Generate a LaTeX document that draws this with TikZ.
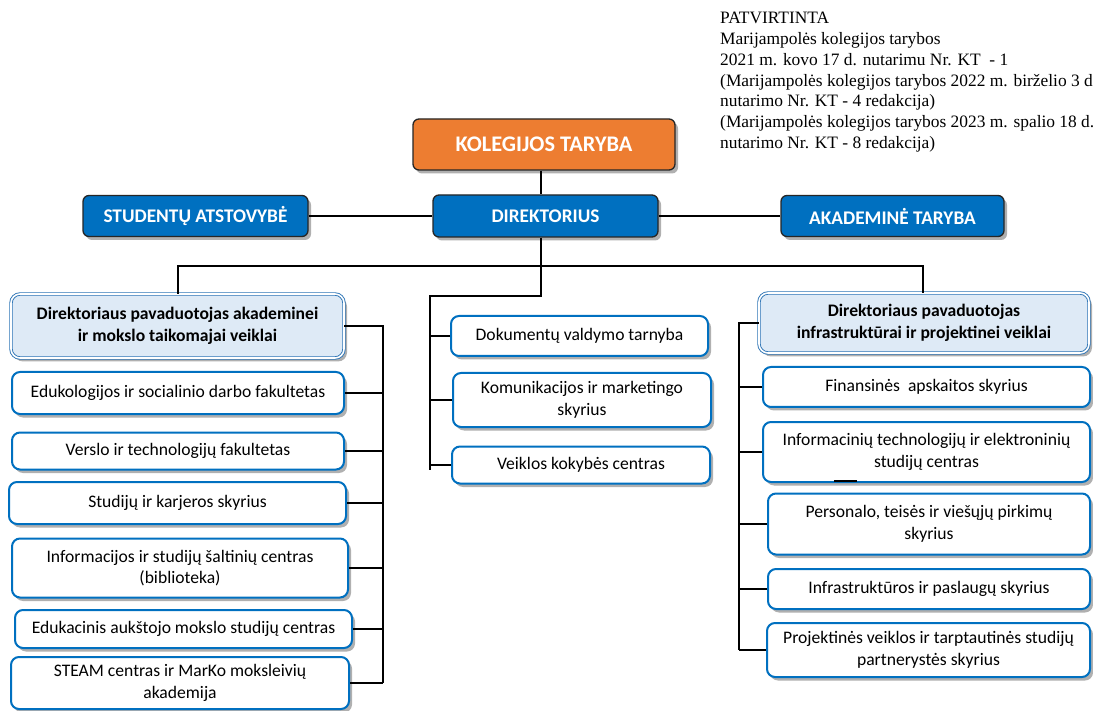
\documentclass[tikz,border=0pt]{standalone}
\usepackage{fontspec}
\setmainfont{Liberation Serif}
\newfontfamily\calfont{Carlito}
\usetikzlibrary{shadows}
\definecolor{orng}{HTML}{ED7D31}
\definecolor{dblue}{HTML}{0070C0}
\definecolor{lblue}{HTML}{DEEAF6}
\definecolor{dbord}{HTML}{2E75B6}
\definecolor{shad}{HTML}{B0B0B0}
\begin{document}
\begin{tikzpicture}[x=1pt,y=-1pt,
 conn/.style={draw=black, line width=1.3pt},
 shd/.style={drop shadow={shadow xshift=3pt, shadow yshift=-3.5pt, fill=shad, opacity=1}},
 hdr/.style={shd, draw=black!85, line width=1.3pt, fill=dblue, rounded corners=6pt, text=white, inner sep=0pt,
   font=\calfont\bfseries\fontsize{19.3}{23}\selectfont},
 topbox/.style={hdr, fill=orng, font=\calfont\bfseries\fontsize{22.3}{26}\selectfont},
 depbox/.style={shd, draw=dbord, double=white, double distance=1.6pt, line width=0.9pt, fill=lblue, rounded corners=9pt,
   inner sep=0pt, align=center, font=\calfont\bfseries\fontsize{17.6}{22}\selectfont},
 wbox/.style={shd, draw=dblue, line width=2pt, fill=white, rounded corners=8pt, inner sep=0pt, align=center,
   font=\calfont\fontsize{17.6}{21.5}\selectfont},
 note/.style={anchor=north west, align=left, inner sep=0pt, font=\fontsize{17.4}{20.8}\selectfont}
]
\fill[white] (0,0) rectangle (1093,711);
\useasboundingbox (0,0) rectangle (1093,711);

% approval note
\node[note] (appr) at (720,12) {PATVIRTINTA\\
Marijampolės kolegijos tarybos\\
2021 m. kovo 17 d. nutarimu Nr. KT\ \ - 1\\
(Marijampolės kolegijos tarybos 2022 m. birželio 3 d\\
nutarimo Nr. KT - 4 redakcija)\\
(Marijampolės kolegijos tarybos 2023 m. spalio 18 d.\\
nutarimo Nr. KT - 8 redakcija)};

% top level
\node[topbox, minimum width=262pt, minimum height=51pt] (kol) at (544,144.5) {KOLEGIJOS TARYBA};
\node[hdr, minimum width=225pt, minimum height=42pt] (dir) at (545.5,216) {DIREKTORIUS};
\node[hdr, minimum width=225pt, minimum height=41pt] (stud) at (195.5,216) {STUDENTŲ ATSTOVYBĖ};
\node[hdr, minimum width=223pt, minimum height=41pt] (akad) at (892.5,216) {AKADEMINĖ TARYBA};

% deputies
\node[depbox, minimum width=333pt, minimum height=64pt] (dep1) at (177.5,326) {Direktoriaus pavaduotojas akademinei\\ ir mokslo taikomajai veiklai};
\node[depbox, minimum width=330pt, minimum height=60pt] (dep2) at (924,323) {Direktoriaus pavaduotojas\\ infrastruktūrai ir projektinei veiklai};

% left column
\node[wbox, minimum width=332pt, minimum height=42pt] (l1) at (178,393) {Edukologijos ir socialinio darbo fakultetas};
\node[wbox, minimum width=332pt, minimum height=37pt] (l2) at (178,451) {Verslo ir technologijų fakultetas};
\node[wbox, minimum width=337pt, minimum height=42pt] (l3) at (177.5,503) {Studijų ir karjeros skyrius};
\node[wbox, minimum width=336pt, minimum height=59pt] (l4) at (180,568) {Informacijos ir studijų šaltinių centras\\ (biblioteka)};
\node[wbox, minimum width=337pt, minimum height=38pt] (l5) at (183.5,629) {Edukacinis aukštojo mokslo studijų centras};
\node[wbox, minimum width=338pt, minimum height=52pt] (l6) at (180,683) {STEAM centras ir MarKo moksleivių\\ akademija};

% centre column
\node[wbox, minimum width=257pt, minimum height=40pt] (c1) at (579.5,336) {Dokumentų valdymo tarnyba};
\node[wbox, minimum width=258pt, minimum height=54pt] (c2) at (582,400) {Komunikacijos ir marketingo\\ skyrius};
\node[wbox, minimum width=258pt, minimum height=37pt] (c3) at (581,465) {Veiklos kokybės centras};

% right column
\node[wbox, minimum width=327pt, minimum height=40pt] (r1) at (926.5,387) {Finansinės\ \ apskaitos skyrius};
\node[wbox, minimum width=327pt, minimum height=60pt] (r2) at (926.5,452) {Informacinių technologijų ir elektroninių\\ studijų centras};
\node[wbox, minimum width=322pt, minimum height=61pt] (r3) at (929,524) {Personalo, teisės ir viešųjų pirkimų\\ skyrius};
\node[wbox, minimum width=322pt, minimum height=40pt] (r4) at (929,589) {Infrastruktūros ir paslaugų skyrius};
\node[wbox, minimum width=323pt, minimum height=54pt] (r5) at (928.5,650) {Projektinės veiklos ir tarptautinės studijų\\ partnerystės skyrius};

% bus coordinates
\coordinate (vx) at (541,266);
\coordinate (hl) at (178,266);
\coordinate (hr) at (923,266);
\coordinate (m1) at (541,296);
\coordinate (m2) at (430,296);
\coordinate (m3) at (430,470);
\coordinate (lb1) at (383,326);
\coordinate (lb2) at (383,683);
\coordinate (rb1) at (739,323);
\coordinate (rb2) at (739,650);

% connectors
\draw[conn] (kol.south -| vx) -- (dir.north -| vx);
\draw[conn] (stud.east) -- (dir.west);
\draw[conn] (dir.east) -- (akad.west);
\draw[conn] (dir.south -| vx) -- (m1) -- (m2) -- (m3);
\draw[conn] (hl |- dep1.north) -- (hl) -- (hr) -- (hr |- dep2.north);
\draw[conn] (dep1.east |- lb1) -- (lb1) -- (lb2);
\foreach \n in {l1,l2,l3,l4,l5,l6} \draw[conn] (\n.east) -- (\n.east -| lb1);
\foreach \n in {c1,c2,c3} \draw[conn] (\n.west) -- (\n.west -| m2);
\draw[conn] (dep2.west |- rb1) -- (rb1) -- (rb2);
\foreach \n in {r1,r2,r3,r4,r5} \draw[conn] (\n.west) -- (\n.west -| rb1);
\draw[line width=2pt] (834,481) -- (857,481);
\end{tikzpicture}
\end{document}
